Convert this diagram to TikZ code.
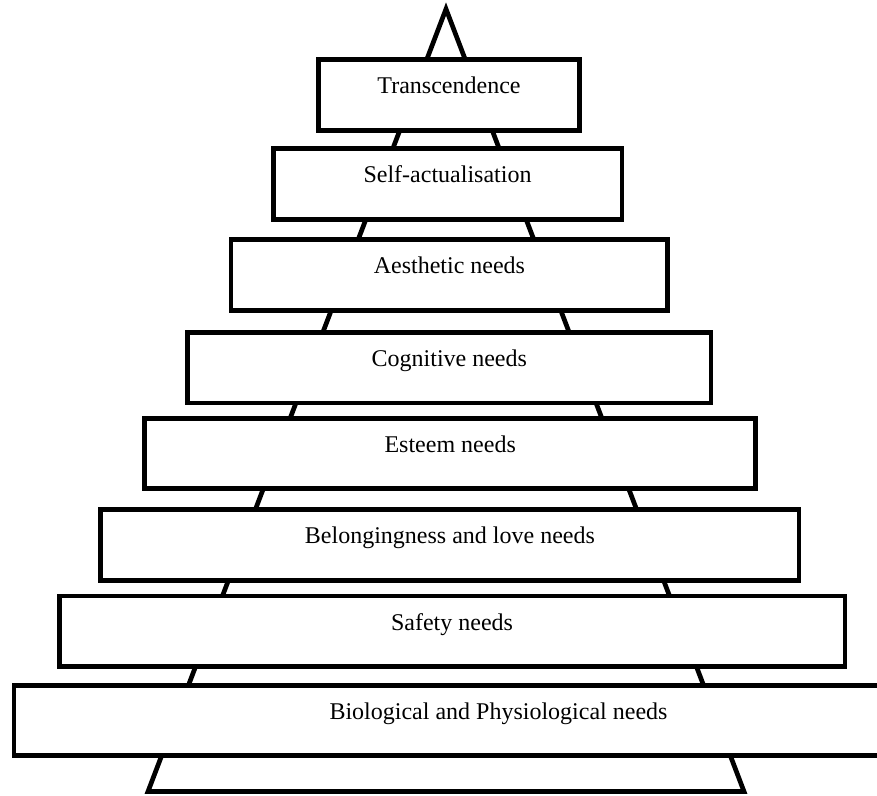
\documentclass[tikz,border=0pt]{standalone}
\usepackage{fontspec}
\setmainfont{Liberation Serif}
\begin{document}
\begin{tikzpicture}[x=1pt,y=-1pt,line width=4.7pt,
		level/.style={draw,fill=white,rectangle,inner sep=0pt,outer sep=0pt,
					anchor=north,text height=34pt,text depth=36.5pt,
					font=\fontsize{24}{28}\selectfont,text=black}]
		\useasboundingbox (0,0) rectangle (877,795);
		% pyramid behind the levels
		\coordinate (apex) at (446,9);
		\coordinate (baseL) at (148,791.5);
		\coordinate (baseR) at (744,791.5);
		\draw (apex) -- (baseR) -- (baseL) -- cycle;
		% levels, top to bottom
		\node[level,minimum width=261.5pt] (trans) at (449,59.7) {Transcendence};
		\node[level,minimum width=348.7pt] (self) at (447.5,148.8) {Self-actualisation};
		\node[level,minimum width=436.7pt] (aesth) at (449.4,239.8) {Aesthetic needs};
		\node[level,minimum width=523.5pt] (cogn) at (449.3,332.5) {Cognitive needs};
		\node[level,minimum width=611pt] (esteem) at (450.2,418.3) {Esteem needs};
		\node[level,minimum width=698.3pt] (belong) at (449.9,509.8) {Belongingness and love needs};
		\node[level,minimum width=785.7pt] (safety) at (452,596) {Safety needs};
		\node[level,minimum width=969pt] (bio) at (498.5,685.3) {Biological and Physiological needs};
	\end{tikzpicture}
\end{document}
